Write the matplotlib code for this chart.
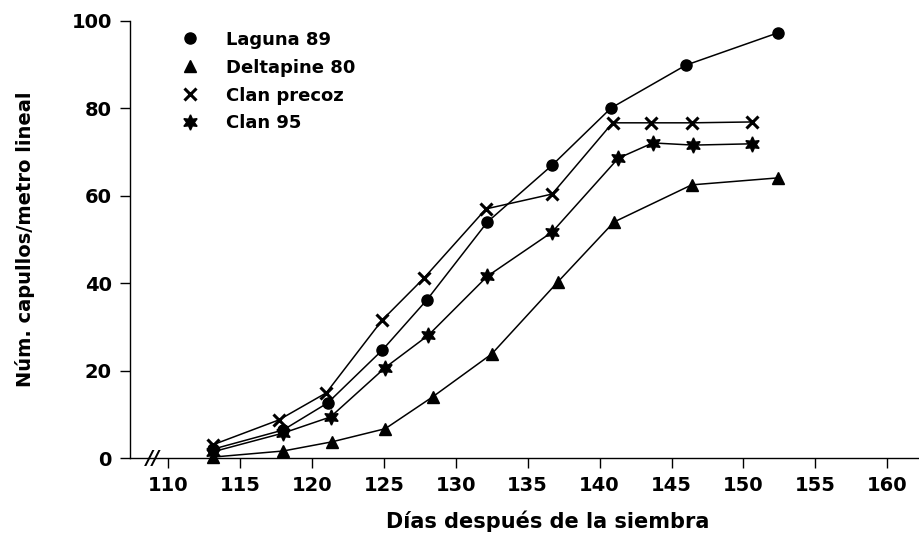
import matplotlib
matplotlib.use("Agg")
import matplotlib.pyplot as plt

plt.rcParams['font.family'] = ['DejaVu Sans']
plt.rcParams['font.weight'] = 'bold'

# Data
x_laguna = [113.1, 118.0, 121.1, 124.9, 128.0, 132.2, 136.7, 140.8, 146.0, 152.4]
y_laguna = [2.0, 6.4, 12.6, 24.7, 36.2, 54.0, 67.0, 80.1, 89.9, 97.3]

x_delta = [113.1, 118.0, 121.4, 125.1, 128.4, 132.5, 137.1, 141.0, 146.4, 152.4]
y_delta = [0.2, 1.6, 3.7, 6.7, 14.0, 23.8, 40.3, 54.0, 62.5, 64.1]

x_precoz = [113.1, 117.7, 121.0, 124.9, 127.8, 132.1, 136.7, 140.9, 143.6, 146.4, 150.6]
y_precoz = [3.0, 8.7, 14.9, 31.6, 41.2, 57.0, 60.4, 76.7, 76.7, 76.7, 76.9]

x_c95 = [113.1, 118.0, 121.3, 125.1, 128.1, 132.2, 136.7, 141.3, 143.7, 146.5, 150.6]
y_c95 = [1.4, 5.7, 9.4, 20.7, 28.1, 41.6, 51.7, 68.6, 72.1, 71.6, 71.9]

labels = ["Laguna 89", "Deltapine 80", "Clan precoz", "Clan 95"]
xticks = [110, 115, 120, 125, 130, 135, 140, 145, 150, 155, 160]
yticks = [0, 20, 40, 60, 80, 100]

fig = plt.figure(figsize=(9.19, 5.40), dpi=100)
ax = fig.add_axes([130/919, 82/540, 1 - 130/919, (458-21)/540])

common = dict(color='black', lw=1.1, clip_on=False)
ax.plot(x_laguna, y_laguna, marker='o', ms=8, mfc='black', mec='black', label=labels[0], **common)
ax.plot(x_delta, y_delta, marker='^', ms=9, mfc='black', mec='black', label=labels[1], **common)
ax.plot(x_precoz, y_precoz, marker='x', ms=9, mew=2.2, label=labels[2], **common)
ax.plot(x_c95, y_c95, marker=(6, 1, 0), ms=11, mfc='black', mec='black', label=labels[3], **common)

ax.set_xlim(107.36, 162.2)
ax.set_ylim(0, 100)
ax.set_xticks(xticks)
ax.set_yticks(yticks)
ax.tick_params(axis='both', direction='out', length=7, width=1, labelsize=14, pad=6)
for lab in ax.get_xticklabels() + ax.get_yticklabels():
    lab.set_fontweight('bold')

for s in ['top', 'right']:
    ax.spines[s].set_visible(False)
for s in ['left', 'bottom']:
    ax.spines[s].set_linewidth(1.0)

# axis break mark
ax.text(108.95, 0, "//", ha='center', va='center', fontsize=14, fontweight='bold',
        fontstyle='italic', clip_on=False)

ax.set_xlabel("Días después de la siembra", fontsize=15, fontweight='bold')
ax.xaxis.set_label_coords(0.53, -0.12)
ax.set_ylabel("Núm. capullos/metro lineal", fontsize=14, fontweight='bold')
ax.yaxis.set_label_coords(-0.12, 0.5)

leg = ax.legend(loc='upper left', bbox_to_anchor=(0.055, 1.015), frameon=False,
                handlelength=0, handletextpad=2.0, labelspacing=0.55,
                prop={'size': 13, 'weight': 'bold'})
for h in leg.legend_handles:
    h.set_linestyle('')

fig.savefig("out.png", dpi=100)
